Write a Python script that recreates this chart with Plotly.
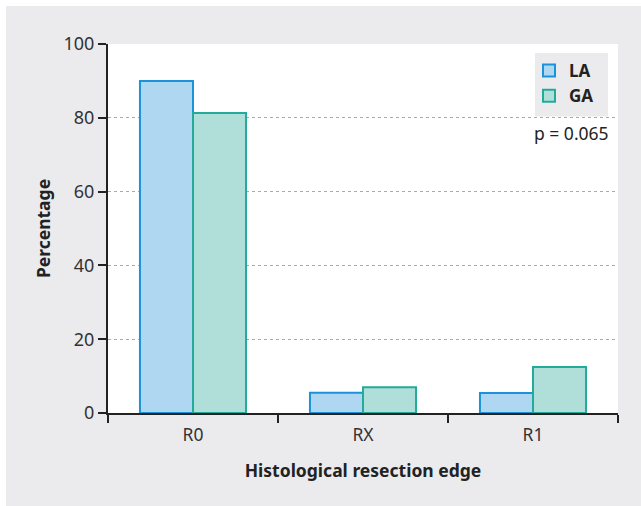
import plotly.graph_objects as go

categories = ["R0", "RX", "R1"]
la_values = [90.0, 5.5, 5.4]
ga_values = [81.3, 7.0, 12.5]
y_ticks = [0, 20, 40, 60, 80, 100]
p_text = "p = 0.065"

W, H = 641, 506
L, R, T, B = 108, 23, 44, 93
pw, ph = W - L - R, H - T - B
FONT = "Noto Sans"


def px_x(x):
    return (x - L) / pw


def px_y(y):
    return (H - B - y) / ph


fig = go.Figure()
fig.add_trace(go.Bar(
    name="LA", x=categories, y=la_values,
    marker=dict(color="#b0d7f2", line=dict(color="#1b93d9", width=2)),
))
fig.add_trace(go.Bar(
    name="GA", x=categories, y=ga_values,
    marker=dict(color="#afdfd8", line=dict(color="#22ab9b", width=2)),
))

fig.add_annotation(
    x=1.0, y=76, xref="paper", yref="y", text=p_text, showarrow=False,
    xanchor="right", yanchor="middle", xshift=-7,
    font=dict(family=FONT, size=17.5, color="#222"),
)

# outer grey panel
fig.add_shape(
    type="rect", xref="paper", yref="paper", layer="below",
    x0=px_x(6), x1=px_x(W + 5), y0=px_y(H + 5), y1=px_y(6),
    fillcolor="#ebebed", line=dict(width=0),
)
# white plotting area
fig.add_shape(
    type="rect", xref="paper", yref="paper", layer="below",
    x0=0, x1=1, y0=0, y1=1,
    fillcolor="white", line=dict(width=0),
)
# legend box
fig.add_shape(
    type="rect", xref="paper", yref="paper", layer="below",
    x0=px_x(535), x1=px_x(608), y0=px_y(116.5), y1=px_y(53),
    fillcolor="#ebebed", line=dict(width=0),
)

fig.update_layout(
    width=W, height=H,
    margin=dict(l=L, r=R, t=T, b=B, pad=0),
    paper_bgcolor="white",
    plot_bgcolor="rgba(0,0,0,0)",
    barmode="group",
    bargap=0.376,
    bargroupgap=0,
    font=dict(family=FONT, size=17, color="#222"),
    showlegend=True,
    legend=dict(
        x=px_x(529), y=px_y(53), xanchor="left", yanchor="top",
        bgcolor="rgba(0,0,0,0)", borderwidth=0,
        font=dict(family=FONT, size=17, color="#222", weight="bold"),
        itemwidth=30, tracegroupgap=2,
    ),
    xaxis=dict(
        showline=True, linecolor="#222", linewidth=2,
        ticks="outside", ticklen=8, tickwidth=2, tickcolor="#222",
        tickson="boundaries", ticklabelstandoff=5,
        showgrid=False,
        tickfont=dict(size=17.5, color="#333"),
        title=dict(text="<b>Histological resection edge</b>", font=dict(size=17.5, color="#222"), standoff=20),
    ),
    yaxis=dict(
        range=[0, 100], tickvals=y_ticks,
        showline=True, linecolor="#222", linewidth=2,
        ticks="outside", ticklen=8, tickwidth=2, tickcolor="#222",
        showgrid=True, gridcolor="#aaaaaa", griddash="dot", gridwidth=1,
        zeroline=False,
        tickfont=dict(size=18, color="#333"),
        title=dict(text="<b>Percentage</b>", font=dict(size=17.5, color="#222"), standoff=8),
    ),
)

fig.write_html(
    "out.html",
    config={"displayModeBar": False},
    post_script="document.body.style.margin='0';",
)
